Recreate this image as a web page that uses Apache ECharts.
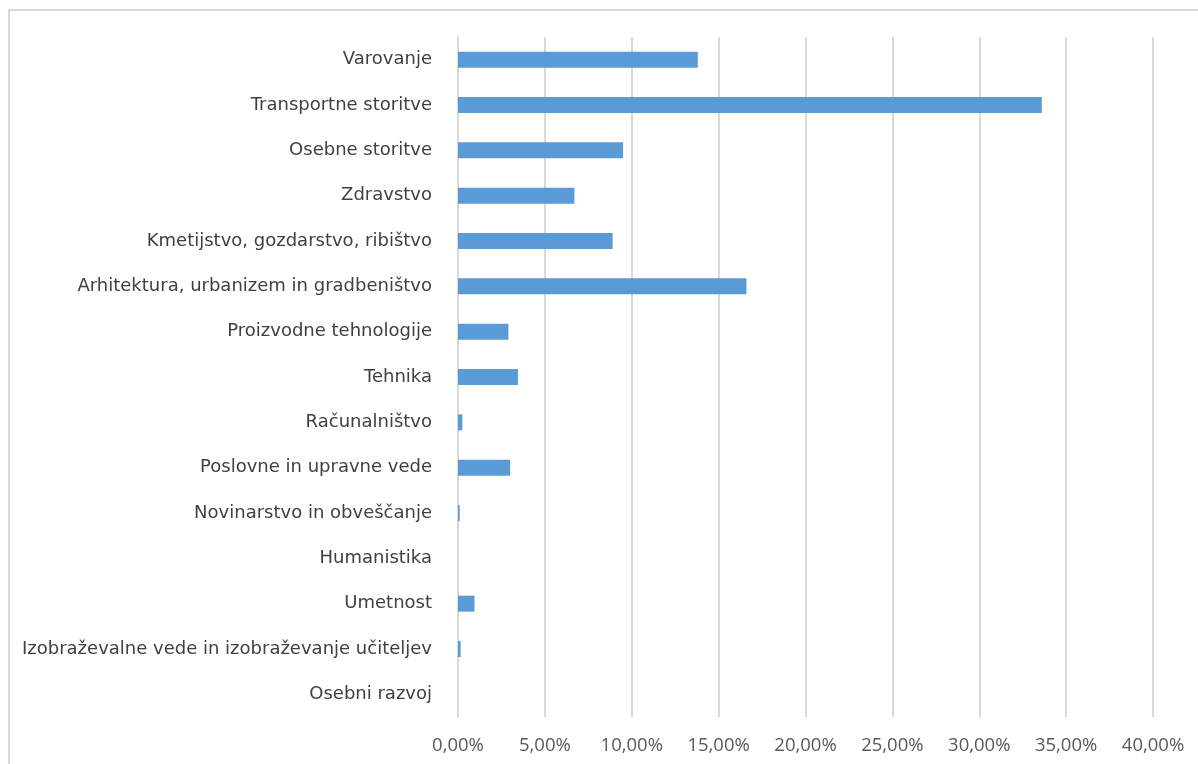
<!DOCTYPE html>
<html>
<head>
<meta charset="utf-8">
<script src="https://cdn.jsdelivr.net/npm/echarts@6/dist/echarts.min.js"></script>
<style>html,body{margin:0;padding:0;background:#fff;}#c{width:1198px;height:764px;}</style>
</head>
<body>
<div id="c"></div>
<script>
const categories = [
  "Varovanje",
  "Transportne storitve",
  "Osebne storitve",
  "Zdravstvo",
  "Kmetijstvo, gozdarstvo, ribištvo",
  "Arhitektura, urbanizem in gradbeništvo",
  "Proizvodne tehnologije",
  "Tehnika",
  "Računalništvo",
  "Poslovne in upravne vede",
  "Novinarstvo in obveščanje",
  "Humanistika",
  "Umetnost",
  "Izobraževalne vede in izobraževanje učiteljev",
  "Osebni razvoj"
];
const values = [13.8, 33.6, 9.5, 6.7, 8.9, 16.6, 2.9, 3.45, 0.25, 3.0, 0.1, 0, 0.95, 0.15, 0];
const xTicks = [0, 5, 10, 15, 20, 25, 30, 35, 40];

const chart = echarts.init(document.getElementById('c'));
chart.setOption({
  animation: false,
  graphic: [{
    type: 'rect',
    shape: { x: 9, y: 10, width: 1200, height: 800 },
    style: { fill: 'none', stroke: '#d9d9d9', lineWidth: 2 },
    silent: true
  }],
  grid: { left: 458, right: 45, top: 37, bottom: 47 },
  xAxis: {
    type: 'value',
    min: xTicks[0],
    max: xTicks[xTicks.length - 1],
    interval: 5,
    axisLine: { show: false },
    axisTick: { show: false },
    splitLine: { show: true, lineStyle: { color: '#d9d9d9', width: 2 } },
    axisLabel: {
      margin: 19,
      color: '#595959',
      fontFamily: 'Open Sans',
      fontSize: 18.5,
      formatter: v => v.toFixed(2).replace('.', ',') + '%'
    }
  },
  yAxis: {
    type: 'category',
    inverse: true,
    data: categories,
    axisLine: { show: true, lineStyle: { color: '#d9d9d9', width: 2 } },
    axisTick: { show: false },
    axisLabel: {
      margin: 26,
      color: '#404040',
      fontFamily: 'DejaVu Sans',
      fontSize: 18
    }
  },
  series: [{
    type: 'bar',
    data: values,
    barWidth: 16,
    itemStyle: { color: '#5b9bd5' }
  }]
});
</script>
</body>
</html>
